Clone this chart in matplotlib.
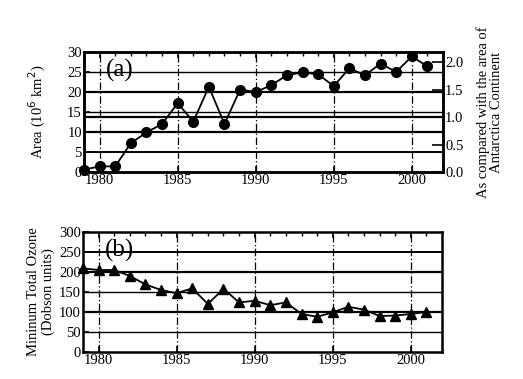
import numpy as np
import matplotlib.pyplot as plt

years = list(range(1979, 2002))
area = [0.6, 1.4, 1.4, 7.2, 9.9, 12.0, 17.2, 12.6, 21.3, 12.0, 20.6, 20.0,
        21.7, 24.2, 24.9, 24.4, 21.5, 25.9, 24.2, 27.1, 25.0, 28.9, 26.4]
ozone = [209, 205, 205, 190, 169, 155, 147, 159, 120, 158, 124, 128,
         117, 124, 95, 88, 99, 113, 106, 90, 91, 95, 100]
antarctica_area = 13.7  # 10^6 km2

plt.rcParams['font.family'] = ['Liberation Serif', 'DejaVu Serif']
plt.rcParams['font.size'] = 10.5

fig = plt.figure(figsize=(5.23, 3.79), dpi=100)
W, H = 523, 379
ax1 = fig.add_axes([84 / W, 1 - 172 / H, 359 / W, 120 / H])
ax2 = fig.add_axes([83 / W, 1 - 352 / H, 359 / W, 120 / H])

def style(ax):
    for s in ax.spines.values():
        s.set_linewidth(1.8)
    ax.set_xlim(1979, 2002)
    ax.set_xticks([1980, 1985, 1990, 1995, 2000])
    ax.set_xticks(years, minor=True)
    ax.tick_params(direction='in', top=True, width=1.2, length=4, pad=1.5)
    ax.tick_params(which='minor', direction='in', top=True, bottom=False, width=1, length=3)
    for x in [1980, 1985, 1990, 1995, 2000]:
        ax.axvline(x, color='k', lw=0.9, ls=(0, (6, 2, 1, 2)), zorder=1)

# (a) ozone hole area
style(ax1)
for v, lw in [(5, 1.4), (10, 1.6), (15, 1.0), (20, 1.6), (25, 1.0)]:
    ax1.axhline(v, color='k', lw=lw, zorder=1)
ax1.axhline(antarctica_area, color='k', lw=1.6, zorder=1)
ax1.plot(years, area, color='k', marker='o', ms=7, lw=1.3, clip_on=False, zorder=3)
ax1.set_ylim(0, 30)
ax1.set_yticks(range(0, 31, 5))
ax1.set_ylabel('Area (10$^6$ km$^2$)', fontsize=10.5, labelpad=14)
ax1.text(1980.4, 25.3, '(a)', fontsize=18, va='center')

ax1r = ax1.twinx()
ax1r.set_ylim(0, 30 / antarctica_area)
ax1r.set_yticks([0.0, 0.5, 1.0, 1.5, 2.0])
ax1r.set_yticklabels(['0.0', '0.5', '1.0', '1.5', '2.0'])
ax1r.tick_params(direction='in', width=1.2, length=8, pad=1.5)
for s in ax1r.spines.values():
    s.set_linewidth(1.8)
ax1r.set_ylabel('As compared with the area of\nAntarctica Continent', fontsize=10.5,
                linespacing=1.0, labelpad=9)

# (b) minimum total ozone
style(ax2)
for v, lw in [(50, 1.0), (100, 1.6), (150, 1.0), (200, 1.6), (250, 1.4)]:
    ax2.axhline(v, color='k', lw=lw, zorder=1)
ax2.plot(years, ozone, color='k', marker='^', ms=7, lw=1.3, clip_on=False, zorder=3)
ax2.set_ylim(0, 300)
ax2.set_yticks(range(0, 301, 50))
ax2.set_ylabel('Mininum Total Ozone\n(Dobson units)', fontsize=10.5, linespacing=1.1,
               labelpad=3)
ax2.text(1980.4, 255, '(b)', fontsize=18, va='center')

fig.savefig('out.png', dpi=100)
